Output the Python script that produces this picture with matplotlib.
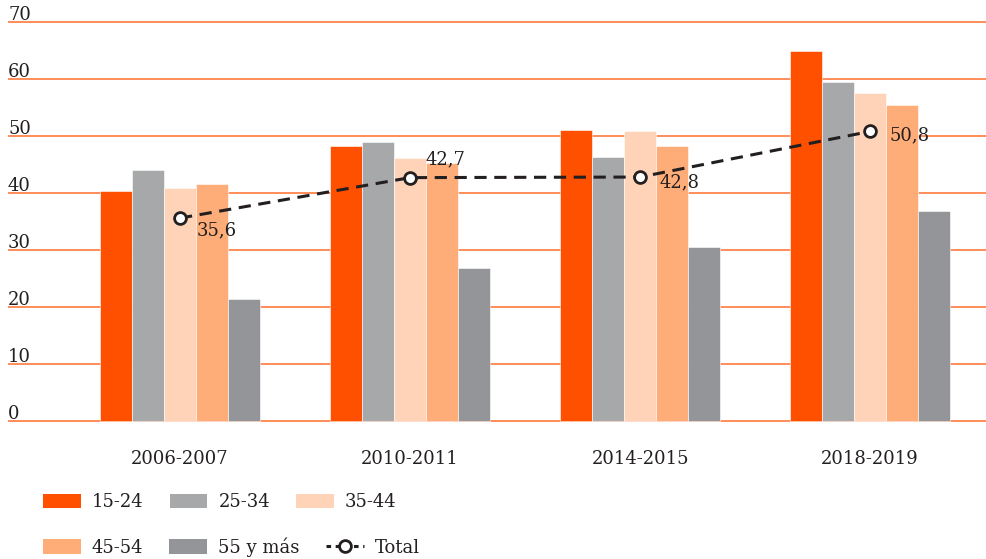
import matplotlib
matplotlib.use("Agg")
import matplotlib.pyplot as plt
from matplotlib.lines import Line2D
from matplotlib.patches import Patch

periods = ["2006-2007", "2010-2011", "2014-2015", "2018-2019"]
groups = ["15-24", "25-34", "35-44", "45-54", "55 y más"]
values = {
    "15-24": [40.4, 48.2, 51.0, 65.0],
    "25-34": [44.1, 49.0, 46.4, 59.4],
    "35-44": [40.8, 46.2, 50.8, 57.5],
    "45-54": [41.5, 45.3, 48.2, 55.5],
    "55 y más": [21.4, 26.9, 30.6, 36.9],
}
total = [35.6, 42.7, 42.8, 50.8]
total_labels = ["35,6", "42,7", "42,8", "50,8"]
yticks = [0, 10, 20, 30, 40, 50, 60, 70]

colors = ["#FF5000", "#A7A8AA", "#FED3B7", "#FFAD78", "#939598"]
grid_color = "#FF7A3D"
text_color = "#231F20"

plt.rcParams["font.family"] = ["DejaVu Serif"]
plt.rcParams["font.size"] = 13

W, H = 986, 559
fig = plt.figure(figsize=(W / 100, H / 100), dpi=100)
ax = fig.add_axes([8 / W, (H - 426) / H, 978 / W, 414 / H])
ax.set_xlim(-0.748, 3.504)
ax.set_ylim(-5 / 5.7, 70 + 10 / 5.7)

w = 0.139
x = list(range(len(periods)))
for i, g in enumerate(groups):
    xs = [p + (i - 2) * w for p in x]
    ax.bar(xs, values[g], width=w, color=colors[i], edgecolor="white",
           linewidth=0.4, zorder=2)

for t in yticks:
    ax.axhline(t, color=grid_color, linewidth=1.2, zorder=1)
    ax.annotate(str(t), xy=(0, t), xycoords=("axes fraction", "data"),
                xytext=(0, 1.5), textcoords="offset points",
                ha="left", va="baseline", color=text_color, fontsize=13)

ax.plot(x, total, color=text_color, linestyle=(0, (4, 2.5)), linewidth=2.2,
        marker="o", markersize=8.5, markerfacecolor="white",
        markeredgecolor=text_color, markeredgewidth=2, zorder=4)

offsets = [(12, -9), (11, 13), (14, -4), (14, -3)]
for xi, yi, lab, off in zip(x, total, total_labels, offsets):
    ax.annotate(lab, xy=(xi, yi), xytext=off, textcoords="offset points",
                ha="left", va="center", color=text_color, fontsize=13, zorder=5)

ax.set_xticks(x)
ax.set_xticklabels(periods, color=text_color, fontsize=13)
ax.tick_params(axis="x", length=0, pad=17)
ax.set_yticks([])
for s in ax.spines.values():
    s.set_visible(False)

handles = [Patch(facecolor=c) for c in colors]
total_handle = Line2D([0], [0], color=text_color, linestyle=(0, (1.5, 1.5)),
                      linewidth=2.2, marker="o", markersize=8.5,
                      markerfacecolor="white", markeredgecolor=text_color,
                      markeredgewidth=2)
leg_kw = dict(frameon=False, loc="center left", borderpad=0, borderaxespad=0,
              handlelength=2.1, handleheight=0.83, handletextpad=0.61,
              columnspacing=1.44, fontsize=13, labelcolor=text_color, ncol=3)
fig.legend(handles[:3], groups[:3], bbox_to_anchor=(43 / W, (H - 502) / H), **leg_kw)
fig.legend(handles[3:] + [total_handle], groups[3:] + ["Total"],
           bbox_to_anchor=(43 / W, (H - 547) / H), **leg_kw)

fig.savefig("out.png", dpi=100)
